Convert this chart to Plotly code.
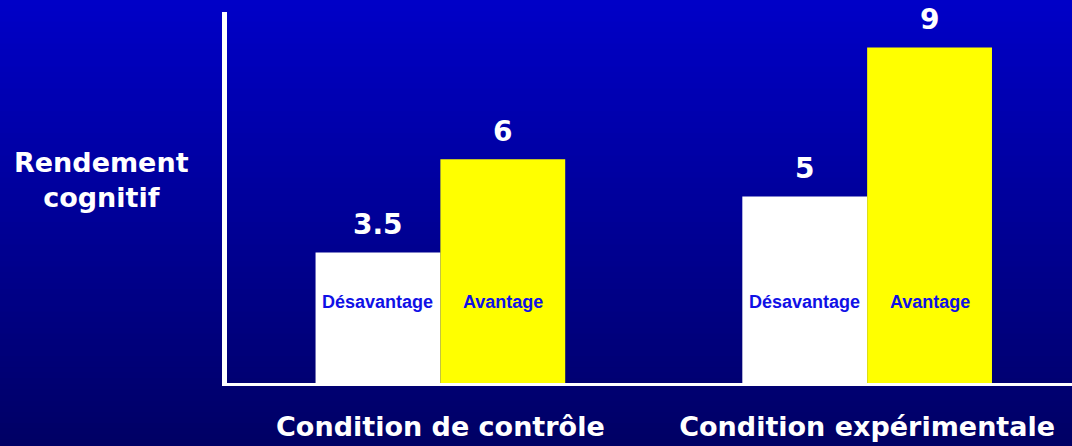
import plotly.graph_objects as go

# ---- data ----
conditions = ["Condition de contrôle", "Condition expérimentale"]
series_names = ["Désavantage", "Avantage"]
desavantage = [3.5, 5]
avantage = [6, 9]
y_title = "Rendement<br>cognitif"

# ---- layout constants ----
W, H = 1072, 446
ML, MR, MT, MB = 227, 0, 12, 63
BARGAP = 0.415
YMAX = 9.95
XRANGE = [-0.5, 1.48]
BIG = dict(family="DejaVu Sans", size=27, color="white", weight="bold")
INNER = dict(family="Liberation Sans", size=18, color="#1010E6", weight="bold")

fig = go.Figure()
colors = ["#FFFFFF", "#FFFF00"]
for name, vals, col in zip(series_names, [desavantage, avantage], colors):
    fig.add_trace(go.Bar(x=conditions, y=vals, name=name, marker=dict(color=col, line=dict(width=0)),
                         hoverinfo="skip"))

# gradient background (style only)
pw = W - ML - MR
ph = H - MT - MB
x0p, x1p = -ML / pw, 1 + MR / pw
ytop = 1 + MT / ph
ybot = -MB / ph
N = 80
top_rgb = (0, 0, 200)
bot_rgb = (0, 0, 100)
shapes = []
for k in range(N):
    t = (k + 0.5) / N
    c = tuple(round(a + (b - a) * t) for a, b in zip(top_rgb, bot_rgb))
    ya = ytop - (ytop - ybot) * k / N
    yb = ytop - (ytop - ybot) * (k + 1) / N
    shapes.append(dict(type="rect", xref="paper", yref="paper", x0=x0p, x1=x1p, y0=yb, y1=ya + 0.002,
                       fillcolor="rgb(%d,%d,%d)" % c, line=dict(width=0), layer="below"))

# annotations
ann = []
half = (1 - BARGAP) / 4
for i, cond in enumerate(conditions):
    for j, (name, vals) in enumerate(zip(series_names, [desavantage, avantage])):
        xc = i + (-half if j == 0 else half)
        v = vals[i]
        ann.append(dict(x=xc, y=v, xref="x", yref="y", text="%g" % v, showarrow=False,
                        xanchor="center", yanchor="middle",
                        yshift=28, font=dict(family="DejaVu Sans", size=28, color="white", weight="bold")))
        ann.append(dict(x=xc, y=0, xref="x", yref="y", text=name, showarrow=False,
                        xanchor="center", yanchor="middle", yshift=81, font=INNER))
ann.append(dict(x=(101 - ML) / pw, y=(H - MB - 180) / ph, xref="paper", yref="paper",
                xanchor="center", yanchor="middle",
                text=y_title, showarrow=False, font=BIG, align="center"))

fig.update_layout(
    width=W, height=H,
    margin=dict(l=ML, r=MR, t=MT, b=MB, pad=0),
    paper_bgcolor="rgb(0,0,150)", plot_bgcolor="rgba(0,0,0,0)",
    barmode="group", bargap=BARGAP, bargroupgap=0,
    showlegend=False,
    shapes=shapes, annotations=ann,
    xaxis=dict(range=XRANGE, showline=True, linecolor="white", linewidth=3, showgrid=False,
               zeroline=False, ticks="", tickfont=BIG, ticklabelstandoff=18, fixedrange=True),
    yaxis=dict(range=[0, YMAX], showline=True, linecolor="white", linewidth=5, showgrid=False,
               zeroline=False, showticklabels=False, ticks="", fixedrange=True),
    font=dict(family="DejaVu Sans"),
)

fig.write_html("out.html", post_script="document.body.style.margin='0';",
               config={"displayModeBar": False})
